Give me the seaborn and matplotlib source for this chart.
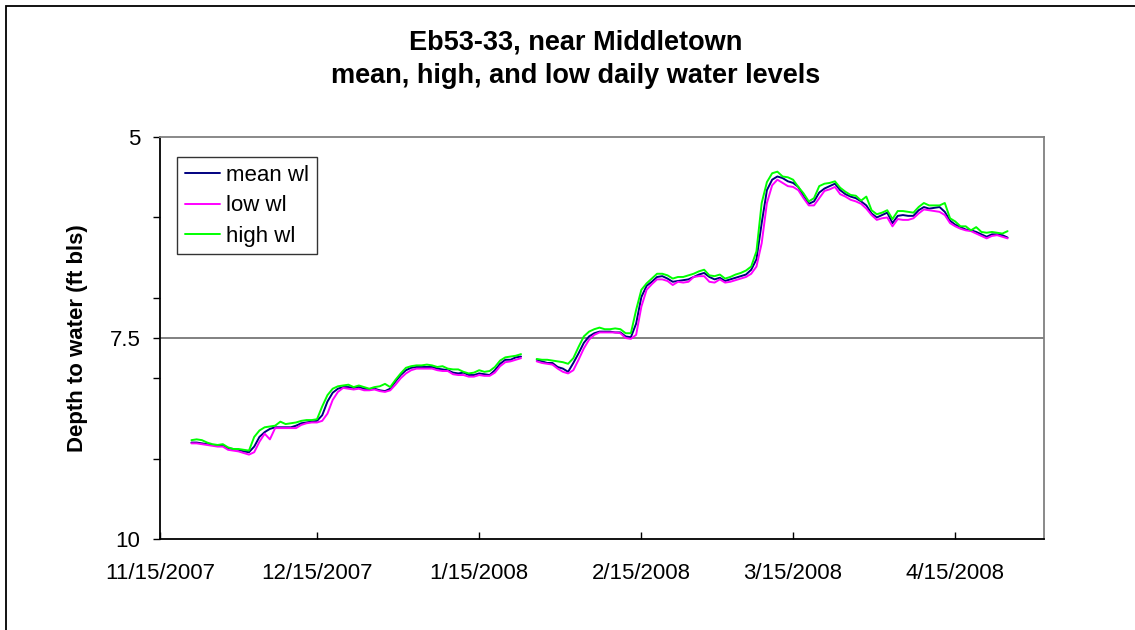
import pandas as pd
import matplotlib.pyplot as plt
import seaborn as sns
from matplotlib.patches import Rectangle

# daily water levels (ft below land surface), two runs with a gap in late January
seg1_start = "2007-11-21"
seg2_start = "2008-01-26"

mean_wl_1 = [8.80, 8.80, 8.81, 8.82, 8.83, 8.84, 8.84, 8.87, 8.88, 8.89, 8.91, 8.92,
             8.85, 8.73, 8.67, 8.63, 8.61, 8.61, 8.61, 8.61, 8.59, 8.56, 8.55, 8.54,
             8.53, 8.46, 8.29, 8.18, 8.13, 8.11, 8.11, 8.12, 8.11, 8.13, 8.14, 8.13,
             8.15, 8.16, 8.13, 8.04, 7.96, 7.90, 7.87, 7.86, 7.86, 7.86, 7.86, 7.88,
             7.89, 7.90, 7.93, 7.94, 7.93, 7.96, 7.96, 7.94, 7.95, 7.96, 7.90, 7.82,
             7.77, 7.77, 7.74, 7.73]
low_wl_1 = [8.81, 8.81, 8.82, 8.83, 8.84, 8.85, 8.85, 8.89, 8.90, 8.91, 8.93, 8.95,
            8.92, 8.79, 8.69, 8.76, 8.62, 8.62, 8.62, 8.62, 8.62, 8.58, 8.56, 8.55,
            8.55, 8.53, 8.44, 8.27, 8.17, 8.12, 8.13, 8.14, 8.13, 8.15, 8.15, 8.14,
            8.16, 8.17, 8.15, 8.08, 8.00, 7.94, 7.90, 7.88, 7.88, 7.88, 7.88, 7.90,
            7.91, 7.91, 7.95, 7.96, 7.96, 7.98, 7.98, 7.96, 7.97, 7.97, 7.93, 7.85,
            7.80, 7.79, 7.77, 7.75]
high_wl_1 = [8.77, 8.76, 8.77, 8.80, 8.82, 8.83, 8.82, 8.86, 8.88, 8.88, 8.89, 8.90,
             8.73, 8.65, 8.61, 8.60, 8.59, 8.54, 8.57, 8.56, 8.55, 8.53, 8.52, 8.52,
             8.51, 8.35, 8.21, 8.13, 8.10, 8.09, 8.08, 8.11, 8.09, 8.11, 8.13, 8.11,
             8.10, 8.07, 8.11, 8.02, 7.94, 7.87, 7.85, 7.84, 7.84, 7.83, 7.84, 7.86,
             7.85, 7.88, 7.89, 7.89, 7.92, 7.94, 7.93, 7.90, 7.92, 7.91, 7.86, 7.78,
             7.74, 7.73, 7.72, 7.70]

mean_wl_2 = [7.77, 7.79, 7.81, 7.81, 7.86, 7.88, 7.92, 7.81, 7.69, 7.56, 7.48, 7.44,
             7.42, 7.42, 7.42, 7.43, 7.43, 7.48, 7.49, 7.32, 6.99, 6.85, 6.80, 6.74,
             6.73, 6.76, 6.80, 6.79, 6.78, 6.77, 6.74, 6.71, 6.69, 6.74, 6.77, 6.75,
             6.79, 6.77, 6.75, 6.73, 6.71, 6.65, 6.52, 6.07, 5.66, 5.53, 5.49, 5.51,
             5.55, 5.57, 5.62, 5.74, 5.83, 5.80, 5.69, 5.64, 5.61, 5.58, 5.66, 5.71,
             5.74, 5.76, 5.80, 5.85, 5.95, 6.00, 5.97, 5.94, 6.07, 5.98, 5.97, 5.98,
             5.98, 5.91, 5.87, 5.89, 5.88, 5.87, 5.93, 6.04, 6.09, 6.12, 6.15, 6.16,
             6.18, 6.21, 6.24, 6.21, 6.21, 6.22, 6.25]
low_wl_2 = [7.79, 7.81, 7.82, 7.83, 7.88, 7.92, 7.94, 7.90, 7.77, 7.63, 7.52, 7.46,
            7.43, 7.43, 7.43, 7.43, 7.44, 7.50, 7.51, 7.46, 7.11, 6.90, 6.83, 6.77,
            6.77, 6.79, 6.84, 6.80, 6.81, 6.80, 6.74, 6.73, 6.73, 6.80, 6.81, 6.77,
            6.81, 6.80, 6.78, 6.76, 6.74, 6.70, 6.61, 6.32, 5.82, 5.60, 5.53, 5.57,
            5.61, 5.62, 5.66, 5.76, 5.85, 5.85, 5.76, 5.67, 5.65, 5.62, 5.71, 5.74,
            5.78, 5.80, 5.83, 5.89, 5.97, 6.03, 6.01, 6.00, 6.11, 6.02, 6.03, 6.03,
            6.01, 5.95, 5.90, 5.91, 5.92, 5.93, 5.97, 6.07, 6.11, 6.14, 6.16, 6.17,
            6.20, 6.23, 6.26, 6.23, 6.22, 6.24, 6.26]
high_wl_2 = [7.76, 7.77, 7.77, 7.78, 7.79, 7.80, 7.82, 7.75, 7.61, 7.48, 7.42, 7.39,
             7.37, 7.39, 7.39, 7.38, 7.39, 7.44, 7.44, 7.15, 6.90, 6.82, 6.76, 6.70,
             6.70, 6.72, 6.76, 6.74, 6.74, 6.72, 6.70, 6.67, 6.65, 6.72, 6.73, 6.71,
             6.76, 6.74, 6.71, 6.69, 6.66, 6.61, 6.42, 5.82, 5.56, 5.45, 5.43, 5.49,
             5.50, 5.53, 5.62, 5.70, 5.80, 5.76, 5.61, 5.58, 5.57, 5.55, 5.63, 5.68,
             5.72, 5.73, 5.79, 5.74, 5.91, 5.96, 5.94, 5.91, 6.02, 5.92, 5.92, 5.93,
             5.94, 5.87, 5.82, 5.85, 5.85, 5.85, 5.82, 6.01, 6.05, 6.11, 6.11, 6.16,
             6.12, 6.18, 6.19, 6.18, 6.19, 6.20, 6.17]

series_names = ["mean wl", "low wl", "high wl"]
series_colors = ["#000080", "#FF00FF", "#00FF00"]

tick_dates = ["2007-11-15", "2007-12-15", "2008-01-15", "2008-02-15", "2008-03-15", "2008-04-15"]
tick_labels = ["11/15/2007", "12/15/2007", "1/15/2008", "2/15/2008", "3/15/2008", "4/15/2008"]
y_major = [5, 7.5, 10]
y_minor = [6, 7, 8, 9]

# long-form table, one unit per continuous run so the gap is kept
frames = []
for seg_id, start, groups in [(1, seg1_start, [mean_wl_1, low_wl_1, high_wl_1]),
                              (2, seg2_start, [mean_wl_2, low_wl_2, high_wl_2])]:
    for name, vals in zip(series_names, groups):
        frames.append(pd.DataFrame({
            "date": pd.date_range(start, periods=len(vals), freq="D"),
            "depth": vals,
            "series": name,
            "seg": seg_id,
        }))
df = pd.concat(frames, ignore_index=True)

sns.set_theme(style="white")
plt.rcParams["font.family"] = ["Liberation Sans", "DejaVu Sans"]
plt.rcParams["text.color"] = "black"
plt.rcParams["axes.labelcolor"] = "black"

fig = plt.figure(figsize=(11.35, 6.3), dpi=100)
ax = fig.add_axes([0.141, 0.1444, 0.779, 0.638])

ax.axhline(7.5, color="#808080", lw=1.4, zorder=1)

sns.lineplot(data=df, x="date", y="depth", hue="series", hue_order=series_names,
             palette=dict(zip(series_names, series_colors)), units="seg",
             estimator=None, lw=1.4, ax=ax)

ax.set_xlim(pd.Timestamp("2007-11-15"), pd.Timestamp("2008-05-02"))
ax.set_ylim(10, 5)
ax.set_yticks(y_major)
ax.set_yticklabels(["5", "7.5", "10"])
ax.set_yticks(y_minor, minor=True)
ax.set_xticks(pd.to_datetime(tick_dates))
ax.set_xticklabels(tick_labels)
ax.set_xlabel("")
ax.set_ylabel("")

ax.tick_params(axis="x", bottom=True, direction="in", length=5, width=1, color="black",
               pad=17, labelsize=16, labelcolor="black")
ax.tick_params(axis="y", which="both", left=True, direction="out", length=5, width=1,
               color="black", pad=9, labelsize=16, labelcolor="black")

for side in ["left", "bottom"]:
    ax.spines[side].set_color("black")
    ax.spines[side].set_linewidth(1.3)
for side in ["top", "right"]:
    ax.spines[side].set_color("#808080")
    ax.spines[side].set_linewidth(1.3)

handles, labels = ax.get_legend_handles_labels()
leg = ax.legend(handles, labels, loc="upper left", bbox_to_anchor=(0.019, 0.95),
                borderaxespad=0, frameon=True, fancybox=False, fontsize=16,
                handlelength=1.6, handletextpad=0.25, labelspacing=0.42,
                borderpad=0.35, edgecolor="black")
leg.get_frame().set_linewidth(1.0)

fig.text(0.507, 0.932, "Eb53-33, near Middletown", ha="center", va="center",
         fontsize=19.5, fontweight="bold", color="black")
fig.text(0.507, 0.879, "mean, high, and low daily water levels", ha="center", va="center",
         fontsize=19.5, fontweight="bold", color="black")
fig.text(0.068, 0.4635, "Depth to water (ft bls)", rotation=90, ha="center", va="center",
         fontsize=16, fontweight="bold", color="black")

# chart-area border, runs off the right and bottom edges
fig.patches.append(Rectangle((0.0053, -0.1), 1.2, 1.0905, transform=fig.transFigure,
                             fill=False, edgecolor="black", lw=1.3))

fig.savefig("out.png", dpi=100)
